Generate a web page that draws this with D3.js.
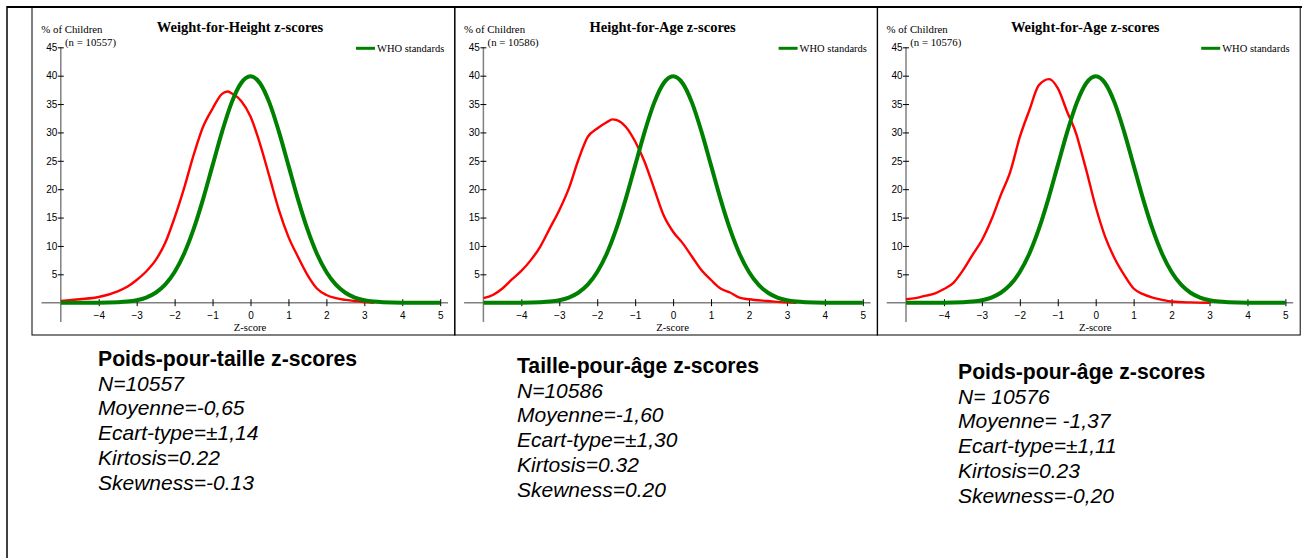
<!DOCTYPE html>
<html><head><meta charset="utf-8">
<script src="https://cdn.jsdelivr.net/npm/d3@7"></script>
<style>
html,body{margin:0;padding:0;background:#fff;}
svg{display:block;}
.serif{font-family:"Liberation Serif","DejaVu Serif",serif;}
.sans{font-family:"Liberation Sans","DejaVu Sans",sans-serif;}
</style>
</head><body>
<svg id="chart" width="1304" height="558"></svg>
<script>
// ---- data ----
const panelTitles = ["Weight-for-Height z-scores", "Height-for-Age z-scores", "Weight-for-Age z-scores"];
const panelN = ["(n = 10557)", "(n = 10586)", "(n = 10576)"];
const xTicks = [-4, -3, -2, -1, 0, 1, 2, 3, 4, 5];
const yTicks = [5, 10, 15, 20, 25, 30, 35, 40, 45];

const whoZ   = [-5,-4.5,-4,-3.5,-3.25,-3,-2.75,-2.5,-2.25,-2,-1.75,-1.5,-1.25,-1,-0.75,-0.5,-0.25,0,0.25,0.5,0.75,1,1.25,1.5,1.75,2,2.25,2.5,2.75,3,3.25,3.5,4,4.5,5];
const whoPct = [0,0,0.01,0.09,0.2,0.44,0.91,1.75,3.17,5.4,8.63,12.95,18.26,24.2,30.11,35.21,38.67,39.89,38.67,35.21,30.11,24.2,18.26,12.95,8.63,5.4,3.17,1.75,0.91,0.44,0.2,0.09,0.01,0,0];

const whzZ   = [-5,-4.5,-4,-3.5,-3.25,-3,-2.75,-2.5,-2.25,-2,-1.75,-1.5,-1.25,-1,-0.75,-0.6,-0.5,-0.25,0,0.25,0.5,0.75,1,1.25,1.5,1.75,2,2.25,2.5,2.75,3,3.25];
const whzPct = [0.3,0.6,1.0,2.0,2.8,4.0,5.5,7.5,10.5,15,20.2,26,31,34.2,36.8,37.2,36.9,35.6,32.8,28,22.2,16.3,11.6,8.1,4.9,2.5,1.35,0.8,0.5,0.3,0.1,0];

const hazZ   = [-5,-4.75,-4.5,-4.25,-4,-3.75,-3.5,-3.25,-3,-2.75,-2.5,-2.25,-2,-1.75,-1.6,-1.5,-1.25,-1,-0.75,-0.5,-0.25,0,0.25,0.5,0.75,1,1.25,1.5,1.75,2,2.5,3,3.25];
const hazPct = [0.8,1.35,2.5,4.1,5.6,7.5,9.9,13.1,16.3,20.1,25.1,29.2,30.7,31.8,32.3,32.2,31,28.4,24.8,20.1,15.4,12.5,10.5,8.1,5.7,4.0,2.5,1.8,0.9,0.6,0.3,0.05,0];

const wazZ   = [-5,-4.75,-4.5,-4.25,-4,-3.75,-3.5,-3.25,-3,-2.75,-2.5,-2.25,-2,-1.75,-1.5,-1.23,-1,-0.75,-0.5,-0.38,-0.25,0,0.25,0.5,0.75,1,1.25,1.5,1.75,2,2.5,3];
const wazPct = [0.6,0.8,1.2,1.6,2.4,3.5,5.7,8.4,11,14.6,19,23.1,29.2,33.9,38.3,39.4,37.8,33.6,29.5,26.6,23.4,16.9,11.6,7.8,4.9,2.5,1.5,0.9,0.5,0.2,0.05,0];

const statTitles = ["Poids-pour-taille z-scores", "Taille-pour-âge z-scores", "Poids-pour-âge z-scores"];
const statLines1 = ["N=10557", "Moyenne=-0,65", "Ecart-type=±1,14", "Kirtosis=0.22", "Skewness=-0.13"];
const statLines2 = ["N=10586", "Moyenne=-1,60", "Ecart-type=±1,30", "Kirtosis=0.32", "Skewness=0.20"];
const statLines3 = ["N= 10576", "Moyenne= -1,37", "Ecart-type=±1,11", "Kirtosis=0.23", "Skewness=-0,20"];

const redSeries = [
  {z: whzZ, v: whzPct},
  {z: hazZ, v: hazPct},
  {z: wazZ, v: wazPct}
];
const statLines = [statLines1, statLines2, statLines3];

// ---- drawing ----
const svg = d3.select("#chart");

// outer frame
svg.append("line").attr("x1", 7).attr("x2", 1302).attr("y1", 7).attr("y2", 7)
  .attr("stroke", "#000").attr("stroke-width", 2);
svg.append("line").attr("x1", 7).attr("x2", 7).attr("y1", 6).attr("y2", 558)
  .attr("stroke", "#000").attr("stroke-width", 1.5);

const panelW = 423, panelH = 328, panelTop = 7;
const panelLeft0 = 32;

for (let i = 0; i < 3; i++) {
  const px = panelLeft0 + i * 422.6;
  const g = svg.append("g");
  g.append("rect").attr("x", px).attr("y", panelTop).attr("width", panelW).attr("height", panelH)
    .attr("fill", "none").attr("stroke", "#000").attr("stroke-width", 1);

  const x = d3.scaleLinear().domain([-5, 5]).range([px + 28.8, px + 408.2]);
  const y = d3.scaleLinear().domain([0, 45]).range([302.7, 47.3]);

  // axis lines
  g.append("line").attr("x1", px + 9.5).attr("x2", px + 416).attr("y1", y(0)).attr("y2", y(0))
    .attr("stroke", "#808080").attr("stroke-width", 1.5);
  g.append("line").attr("x1", x(-5)).attr("x2", x(-5)).attr("y1", y(45)).attr("y2", 322)
    .attr("stroke", "#808080").attr("stroke-width", 1.5);

  // x axis ticks & labels
  const xa = g.append("g").attr("transform", `translate(0,${y(0) - 3.5})`)
    .call(d3.axisBottom(x).tickValues(xTicks).tickSize(7).tickPadding(6).tickSizeOuter(0));
  xa.select(".domain").remove();
  xa.attr("font-family", null).attr("font-size", null);
  xa.selectAll(".tick line").attr("stroke", "#000").attr("stroke-width", 1);
  xa.selectAll(".tick text").attr("class", "sans").attr("font-size", 10).attr("fill", "#000");

  // y axis ticks & labels
  const ya = g.append("g").attr("transform", `translate(${x(-5) + 3},0)`)
    .call(d3.axisLeft(y).tickValues(yTicks).tickSize(6).tickPadding(0.5).tickSizeOuter(0));
  ya.select(".domain").remove();
  ya.attr("font-family", null).attr("font-size", null);
  ya.selectAll(".tick line").attr("stroke", "#000").attr("stroke-width", 1);
  ya.selectAll(".tick text").attr("class", "sans").attr("font-size", 10).attr("fill", "#000");

  // texts
  g.append("text").attr("class", "serif").attr("x", px + 208).attr("y", 31.5).attr("text-anchor", "middle")
    .attr("font-weight", "bold").attr("font-size", 14.5).text(panelTitles[i]);
  g.append("text").attr("class", "serif").attr("x", px + 9.3).attr("y", 32.5)
    .attr("font-size", 10.8).text("% of Children");
  g.append("text").attr("class", "serif").attr("x", px + 33).attr("y", 46)
    .attr("font-size", 10.8).text(panelN[i]);
  g.append("text").attr("class", "serif").attr("x", px + 218).attr("y", 331).attr("text-anchor", "middle")
    .attr("font-size", 10.7).text("Z-score");

  // legend
  g.append("line").attr("x1", px + 324).attr("x2", px + 343).attr("y1", 48.3).attr("y2", 48.3)
    .attr("stroke", "#008000").attr("stroke-width", 3);
  g.append("text").attr("class", "serif").attr("x", px + 345).attr("y", 51.8)
    .attr("font-size", 10.5).text("WHO standards");

  // curves
  const line = d3.line().x(d => x(d[0])).y(d => y(d[1])).curve(d3.curveMonotoneX);
  const red = redSeries[i];
  g.append("path").datum(red.z.map((z, k) => [z, red.v[k]]))
    .attr("d", line).attr("fill", "none").attr("stroke", "#ff0000").attr("stroke-width", 2.4)
    .attr("stroke-linejoin", "round");
  g.append("path").datum(whoZ.map((z, k) => [z, whoPct[k]]))
    .attr("d", line).attr("fill", "none").attr("stroke", "#008000").attr("stroke-width", 4)
    .attr("stroke-linejoin", "round");
}

// statistics blocks
const blockX = [98, 517, 958];
const blockY = [366, 373, 379];
const lineGap = 24.7;
for (let i = 0; i < 3; i++) {
  const t = svg.append("g");
  t.append("text").attr("class", "sans").attr("x", blockX[i]).attr("y", blockY[i])
    .attr("font-weight", "bold").attr("font-size", 21.2).text(statTitles[i]);
  statLines[i].forEach((s, k) => {
    t.append("text").attr("class", "sans").attr("x", blockX[i]).attr("y", blockY[i] + lineGap * (k + 1))
      .attr("font-style", "italic").attr("font-size", 21).text(s);
  });
}
</script>
</body></html>
